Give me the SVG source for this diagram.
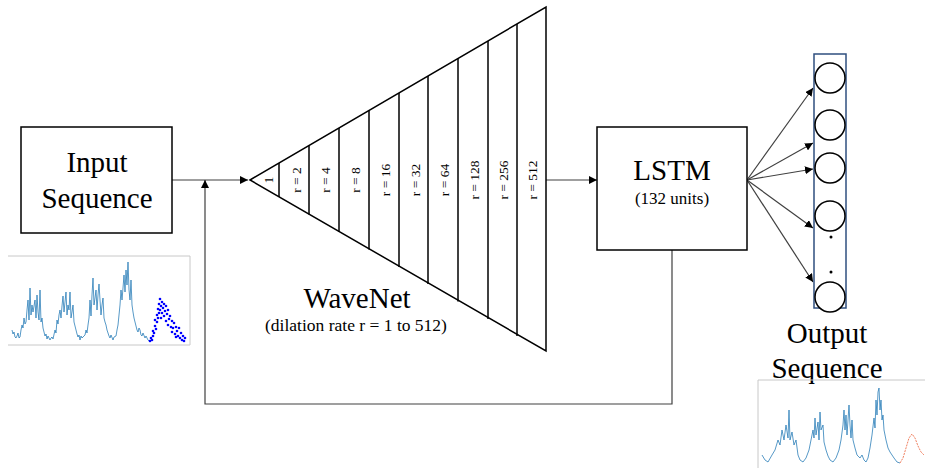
<svg xmlns="http://www.w3.org/2000/svg" width="925" height="468" viewBox="0 0 925 468">
<style>
.box{fill:#fff;stroke:#000;stroke-width:1.5}
text{font-family:"Liberation Serif","Times New Roman",serif;fill:#000}
.big{font-size:29px}
.cell{font-size:13.5px}
.conn{fill:none;stroke:#404040;stroke-width:1.2}
.tri{fill:#fff;stroke:#000;stroke-width:1.5}
.div{stroke:#000;stroke-width:1.5}
.neuron{fill:#fff;stroke:#000;stroke-width:1.5}
.series{fill:none;stroke:#1f77b4;stroke-width:1;stroke-opacity:0.75;stroke-linejoin:round}
.frame{fill:none;stroke:#c8c8c8;stroke-width:1}
</style>
<defs>
<marker id="ah" viewBox="0 0 10 10" refX="10" refY="5" markerWidth="8" markerHeight="8" markerUnits="userSpaceOnUse" orient="auto">
<path d="M0,0 L10,5 L0,10 z" fill="#000"/>
</marker>
</defs>
<rect width="925" height="468" fill="#fff"/>

<g id="connectors">
<line class="conn" x1="172" y1="180" x2="248" y2="180" marker-end="url(#ah)"/>
<polyline class="conn" points="672,250 672,404 205,404 205,180" marker-end="url(#ah)"/>
<line class="conn" x1="546" y1="180" x2="597" y2="180" marker-end="url(#ah)"/>
<line class="conn" x1="747" y1="180" x2="813" y2="88" marker-end="url(#ah)"/>
<line class="conn" x1="747" y1="180" x2="813" y2="143" marker-end="url(#ah)"/>
<line class="conn" x1="747" y1="180" x2="813" y2="169" marker-end="url(#ah)"/>
<line class="conn" x1="747" y1="180" x2="813" y2="228" marker-end="url(#ah)"/>
<line class="conn" x1="747" y1="180" x2="813" y2="282" marker-end="url(#ah)"/>
</g>

<g id="input">
<rect class="box" x="21" y="127" width="151" height="106"/>
<text class="big" x="97" y="172" text-anchor="middle">Input</text>
<text class="big" x="97" y="208" text-anchor="middle">Sequence</text>
</g>

<g id="wavenet">
<polygon class="tri" points="250,180 546,7 546,351"/>
<g>
<line class="div" x1="279" y1="163" x2="279" y2="197"/>
<line class="div" x1="309" y1="145.5" x2="309" y2="214.5"/>
<line class="div" x1="339" y1="128" x2="339" y2="232"/>
<line class="div" x1="369" y1="110.5" x2="369" y2="249.5"/>
<line class="div" x1="399" y1="93" x2="399" y2="267"/>
<line class="div" x1="428" y1="76" x2="428" y2="284"/>
<line class="div" x1="458" y1="58.5" x2="458" y2="301.5"/>
<line class="div" x1="488" y1="41" x2="488" y2="319"/>
<line class="div" x1="517" y1="24" x2="517" y2="336"/>
</g>
<g class="cell" text-anchor="middle">
<text transform="translate(273,180) rotate(-90)">1</text>
<text transform="translate(301,180) rotate(-90)">r = 2</text>
<text transform="translate(330,180) rotate(-90)">r = 4</text>
<text transform="translate(360,180) rotate(-90)">r = 8</text>
<text transform="translate(390,180) rotate(-90)">r = 16</text>
<text transform="translate(420,180) rotate(-90)">r = 32</text>
<text transform="translate(449,180) rotate(-90)">r = 64</text>
<text transform="translate(479,180) rotate(-90)">r = 128</text>
<text transform="translate(508,180) rotate(-90)">r = 256</text>
<text transform="translate(537,180) rotate(-90)">r = 512</text>
</g>
<text class="big" x="357" y="308" text-anchor="middle">WaveNet</text>
<text x="356" y="331" text-anchor="middle" font-size="17.5">(dilation rate r = 1 to 512)</text>
</g>

<g id="lstm">
<rect class="box" x="597" y="127" width="150" height="123"/>
<text class="big" x="672" y="180" text-anchor="middle">LSTM</text>
<text x="672" y="204" text-anchor="middle" font-size="17">(132 units)</text>
</g>

<g id="output">
<rect x="814" y="54" width="32" height="254" fill="none" stroke="#2f4f7f" stroke-width="1.5"/>
<circle class="neuron" cx="830" cy="78" r="15"/>
<circle class="neuron" cx="830" cy="125" r="15"/>
<circle class="neuron" cx="830" cy="168" r="15"/>
<circle class="neuron" cx="830" cy="216" r="15"/>
<circle class="neuron" cx="830" cy="297" r="15"/>
<circle cx="831" cy="237" r="1.5" fill="#000"/>
<circle cx="831" cy="272" r="1.5" fill="#000"/>
<text class="big" x="827" y="343" text-anchor="middle">Output</text>
<text class="big" x="827" y="378" text-anchor="middle">Sequence</text>
</g>

<g id="input-chart">
<rect x="8" y="256" width="182" height="89" fill="#fff"/>
<polyline class="frame" points="8,256 190,256 190,345 8,345"/>
<polyline class="series" points="12,330 13,334 14,332 15,337 16,338 17,336 18,333 19,338 20,337 21,330 22,325 23,328 24,318 25,324 26,322 27,310 28,300 29,320 30,288 31,315 32,305 33,312 34,306 35,300 36,318 37,295 38,312 39,320 40,290 41,322 42,318 43,328 44,332 45,336 46,334 47,339 48,336 50,340 51,338 52,337 53,339 55,330 56,333 57,320 58,324 59,315 60,310 61,318 62,306 63,296 64,312 65,302 66,292 67,315 68,305 69,310 70,292 71,318 72,312 73,305 74,322 75,326 76,330 77,334 78,337 79,335 80,340 81,336 82,338 84,336 85,335 86,330 87,333 88,325 89,318 90,300 91,316 92,295 93,278 94,305 95,298 96,290 97,310 98,295 99,284 100,300 101,315 102,305 103,298 104,318 105,322 106,325 107,330 108,333 109,336 110,338 111,335 113,340 114,337 116,336 117,330 118,325 119,315 120,305 121,290 122,300 123,288 124,275 125,292 126,270 127,285 128,262 129,290 130,300 131,280 132,305 133,312 134,318 135,322 136,326 137,330 138,332 139,328 140,330 141,335 142,336 143,333 145,338 146,336 148,340 150,342"/>
<g fill="#0000ff">
<circle cx="150" cy="341" r="1.3"/><circle cx="151" cy="338" r="1.3"/><circle cx="152" cy="340" r="1.3"/><circle cx="153" cy="336" r="1.3"/><circle cx="153" cy="331" r="1.3"/><circle cx="154" cy="333" r="1.3"/><circle cx="155" cy="326" r="1.3"/><circle cx="155" cy="320" r="1.3"/><circle cx="156" cy="329" r="1.3"/><circle cx="157" cy="315" r="1.3"/><circle cx="157" cy="322" r="1.3"/><circle cx="158" cy="309" r="1.3"/><circle cx="158" cy="318" r="1.3"/><circle cx="159" cy="304" r="1.3"/><circle cx="159" cy="313" r="1.3"/><circle cx="160" cy="299" r="1.3"/><circle cx="160" cy="310" r="1.3"/><circle cx="161" cy="306" r="1.3"/><circle cx="161" cy="318" r="1.3"/><circle cx="162" cy="302" r="1.3"/><circle cx="162" cy="313" r="1.3"/><circle cx="163" cy="308" r="1.3"/><circle cx="164" cy="304" r="1.3"/><circle cx="164" cy="316" r="1.3"/><circle cx="165" cy="311" r="1.3"/><circle cx="166" cy="306" r="1.3"/><circle cx="166" cy="321" r="1.3"/><circle cx="167" cy="314" r="1.3"/><circle cx="168" cy="310" r="1.3"/><circle cx="168" cy="325" r="1.3"/><circle cx="169" cy="319" r="1.3"/><circle cx="170" cy="316" r="1.3"/><circle cx="171" cy="327" r="1.3"/><circle cx="172" cy="321" r="1.3"/><circle cx="172" cy="332" r="1.3"/><circle cx="173" cy="328" r="1.3"/><circle cx="174" cy="323" r="1.3"/><circle cx="175" cy="334" r="1.3"/><circle cx="176" cy="327" r="1.3"/><circle cx="176" cy="337" r="1.3"/><circle cx="177" cy="331" r="1.3"/><circle cx="178" cy="336" r="1.3"/><circle cx="179" cy="328" r="1.3"/><circle cx="180" cy="338" r="1.3"/><circle cx="181" cy="333" r="1.3"/><circle cx="182" cy="340" r="1.3"/><circle cx="183" cy="336" r="1.3"/><circle cx="184" cy="341" r="1.3"/><circle cx="185" cy="338" r="1.3"/>
</g>
</g>

<g id="output-chart">
<polyline class="frame" points="758,468 758,380 925,380"/>
<polyline class="series" points="762,455 765,460 768,462 772,455 775,450 778,440 780,445 782,430 784,440 786,425 788,438 789,410 790,440 792,432 794,445 796,440 798,455 800,460 803,462 806,458 809,450 811,440 813,430 814,438 815,418 816,435 818,422 819,440 820,412 821,430 823,425 824,442 826,450 828,456 830,460 833,462 836,458 839,450 841,440 843,425 844,410 845,430 846,415 847,435 849,405 850,425 851,438 852,420 853,440 855,448 857,455 860,458 862,455 864,460 866,462 868,458 870,448 872,435 874,418 875,428 876,400 877,415 878,392 879,388 880,410 881,400 882,420 883,415 884,430 886,440 888,448 890,452 892,455 894,458 897,462 900,463"/>
<polyline fill="none" stroke="#f08060" stroke-width="1" stroke-dasharray="2,1" points="900,463 903,458 906,448 909,438 912,434 915,438 918,446 921,452 924,455"/>
</g>
</svg>
